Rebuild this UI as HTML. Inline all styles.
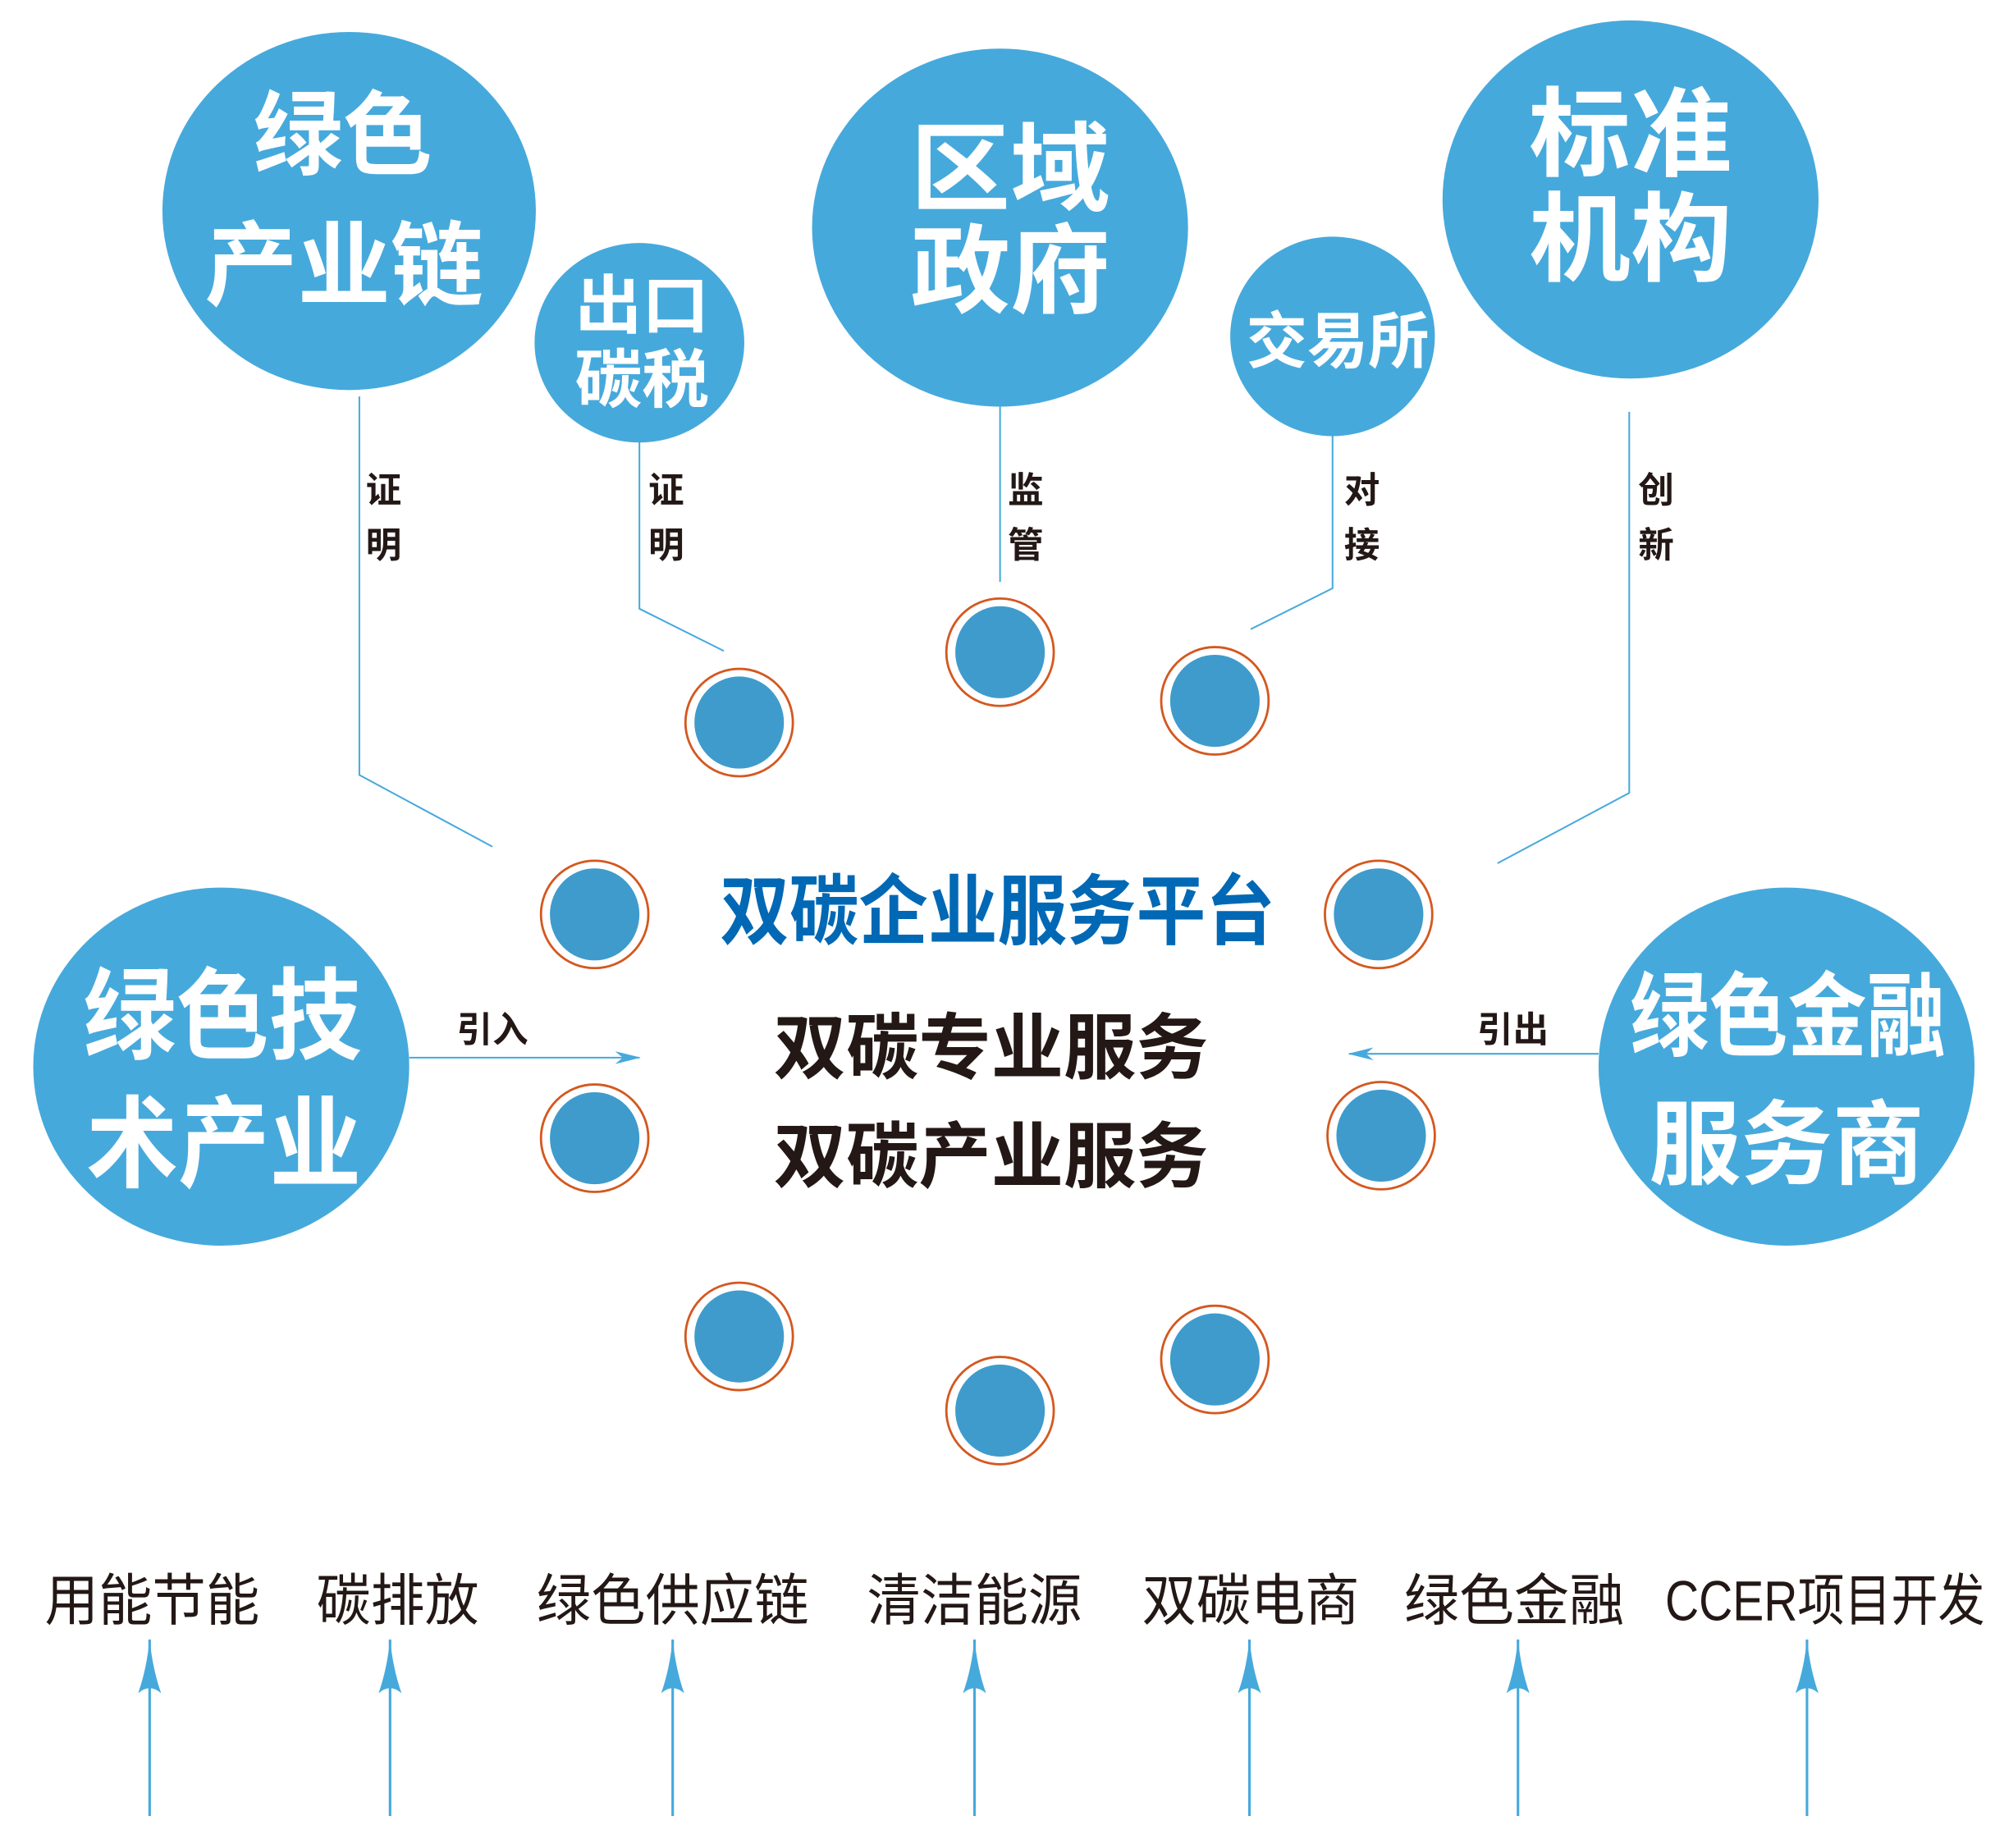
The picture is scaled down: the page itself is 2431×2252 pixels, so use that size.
<!DOCTYPE html>
<html><head><meta charset="utf-8"><style>
html,body{margin:0;padding:0;background:#fff;}
svg{display:block;}
text{font-family:"Liberation Sans","Noto Sans CJK SC",sans-serif;}
</style></head><body>
<svg width="2431" height="2252" viewBox="0 0 1560 1445" preserveAspectRatio="none" xmlns="http://www.w3.org/2000/svg">
<defs>
<marker id="ar" viewBox="0 0 20 10" refX="19" refY="5" markerWidth="20" markerHeight="10" markerUnits="userSpaceOnUse" orient="auto">
<path d="M0,0 L20,5 L0,10 L6,5 Z" fill="#46a9dc"/></marker>
<marker id="ab" viewBox="0 0 43 18" refX="42" refY="9" markerWidth="43" markerHeight="18" markerUnits="userSpaceOnUse" orient="auto">
<path d="M0,0 Q20,7 43,9 Q20,11 0,18 Q8,9 0,0 Z" fill="#46a9dc"/></marker>
</defs>
<g fill="#46a9dc">
<ellipse cx="273" cy="165" rx="146" ry="140"/>
<ellipse cx="782" cy="178" rx="147" ry="140"/>
<ellipse cx="1275" cy="156" rx="147" ry="140"/>
<ellipse cx="500" cy="268" rx="82" ry="78"/>
<ellipse cx="1042" cy="263" rx="80" ry="78"/>
<ellipse cx="173" cy="834" rx="147" ry="140"/>
<ellipse cx="1397" cy="834" rx="147" ry="140"/>
</g>
<g fill="#fff" font-weight="700" text-anchor="middle" dominant-baseline="central" lengthAdjust="spacingAndGlyphs">
<text x="268" y="106" font-size="72" textLength="140" lengthAdjust="spacingAndGlyphs">绿色</text>
<text x="269" y="208" font-size="72" textLength="218" lengthAdjust="spacingAndGlyphs">产业链</text>
<text x="790" y="133" font-size="76" textLength="156" lengthAdjust="spacingAndGlyphs">区域</text>
<text x="790" y="213" font-size="76" textLength="156" lengthAdjust="spacingAndGlyphs">政府</text>
<text x="1275" y="106" font-size="76" textLength="159" lengthAdjust="spacingAndGlyphs">标准</text>
<text x="1275" y="188" font-size="76" textLength="159" lengthAdjust="spacingAndGlyphs">机构</text>
<text x="502" y="239" font-size="50" textLength="105" lengthAdjust="spacingAndGlyphs">出口</text>
<text x="502" y="297" font-size="50" textLength="105" lengthAdjust="spacingAndGlyphs">碳税</text>
<text x="1046" y="267" font-size="48" textLength="143" lengthAdjust="spacingAndGlyphs">交易所</text>
<text x="174" y="795" font-size="78" textLength="218" lengthAdjust="spacingAndGlyphs">绿色技</text>
<text x="175" y="895" font-size="78" textLength="215" lengthAdjust="spacingAndGlyphs">术产业</text>
<text x="1398" y="795" font-size="72" textLength="247" lengthAdjust="spacingAndGlyphs">绿色金融</text>
<text x="1397" y="895" font-size="72" textLength="215" lengthAdjust="spacingAndGlyphs">服务商</text>
</g>
<g fill="none" stroke="#46a9dc" stroke-width="1.3">
<polyline points="281,310 281,606 385,662"/>
<polyline points="500,345 500,476 566,509"/>
<polyline points="782,318 782,455"/>
<polyline points="1042,340 1042,460 978,492"/>
<polyline points="1274,322 1274,620 1171,675"/>
<line x1="320" y1="827" x2="500" y2="827" marker-end="url(#ar)"/>
<line x1="1250" y1="824" x2="1055" y2="824" marker-end="url(#ar)"/>
</g>
<g fill="none" stroke="#46a9dc" stroke-width="2">
<line x1="117" y1="1420" x2="117" y2="1282" marker-end="url(#ab)"/>
<line x1="305" y1="1420" x2="305" y2="1282" marker-end="url(#ab)"/>
<line x1="526" y1="1420" x2="526" y2="1282" marker-end="url(#ab)"/>
<line x1="762" y1="1420" x2="762" y2="1282" marker-end="url(#ab)"/>
<line x1="977" y1="1420" x2="977" y2="1282" marker-end="url(#ab)"/>
<line x1="1187" y1="1420" x2="1187" y2="1282" marker-end="url(#ab)"/>
<line x1="1413" y1="1420" x2="1413" y2="1282" marker-end="url(#ab)"/>
</g>
<g fill="#231815" font-size="28" font-weight="700" text-anchor="middle" dominant-baseline="central">
<text x="300" y="384">证</text><text x="300" y="427">明</text>
<text x="521" y="384">证</text><text x="521" y="427">明</text>
<text x="802" y="384">监</text><text x="802" y="427">管</text>
<text x="1065" y="384">对</text><text x="1065" y="427">接</text>
<text x="1295" y="384">创</text><text x="1295" y="427">新</text>
<text x="385" y="806">引入</text>
<text x="1183" y="806">引出</text>
</g>
<g fill="#3f9bcc" stroke="#d4581f" stroke-width="1.8">
<circle cx="578" cy="565" r="42" fill="#fff"/><ellipse cx="578" cy="565" rx="35" ry="36" stroke="none"/>
<circle cx="782" cy="510" r="42" fill="#fff"/><ellipse cx="782" cy="510" rx="35" ry="36" stroke="none"/>
<circle cx="950" cy="548" r="42" fill="#fff"/><ellipse cx="950" cy="548" rx="35" ry="36" stroke="none"/>
<circle cx="465" cy="715" r="42" fill="#fff"/><ellipse cx="465" cy="715" rx="35" ry="36" stroke="none"/>
<circle cx="1078" cy="715" r="42" fill="#fff"/><ellipse cx="1078" cy="715" rx="35" ry="36" stroke="none"/>
<circle cx="465" cy="890" r="42" fill="#fff"/><ellipse cx="465" cy="890" rx="35" ry="36" stroke="none"/>
<circle cx="1080" cy="888" r="42" fill="#fff"/><ellipse cx="1080" cy="888" rx="35" ry="36" stroke="none"/>
<circle cx="578" cy="1045" r="42" fill="#fff"/><ellipse cx="578" cy="1045" rx="35" ry="36" stroke="none"/>
<circle cx="782" cy="1103" r="42" fill="#fff"/><ellipse cx="782" cy="1103" rx="35" ry="36" stroke="none"/>
<circle cx="950" cy="1063" r="42" fill="#fff"/><ellipse cx="950" cy="1063" rx="35" ry="36" stroke="none"/>
</g>
<g font-weight="700" text-anchor="middle" dominant-baseline="central">
<text x="780" y="713" font-size="60" fill="#0068b4" textLength="434" lengthAdjust="spacingAndGlyphs">双碳企业服务平台</text>
<text x="775" y="820" font-size="56" fill="#231815" textLength="340" lengthAdjust="spacingAndGlyphs">双碳专业服务</text>
<text x="775" y="905" font-size="56" fill="#231815" textLength="340" lengthAdjust="spacingAndGlyphs">双碳产业服务</text>
</g>
<g fill="#231815" font-size="44" text-anchor="middle" dominant-baseline="central">
<text x="119" y="1252" textLength="168" lengthAdjust="spacingAndGlyphs">用能节能</text>
<text x="311" y="1252" textLength="127" lengthAdjust="spacingAndGlyphs">碳排放</text>
<text x="526" y="1252" textLength="213" lengthAdjust="spacingAndGlyphs">绿色供应链</text>
<text x="762" y="1252" textLength="168" lengthAdjust="spacingAndGlyphs">清洁能源</text>
<text x="978" y="1252" textLength="170" lengthAdjust="spacingAndGlyphs">双碳电商</text>
<text x="1184" y="1252" textLength="172" lengthAdjust="spacingAndGlyphs">绿色金融</text>
<text x="1427" y="1252" textLength="250" lengthAdjust="spacingAndGlyphs">CCER项目开发</text>
</g>
</svg>
</body></html>
